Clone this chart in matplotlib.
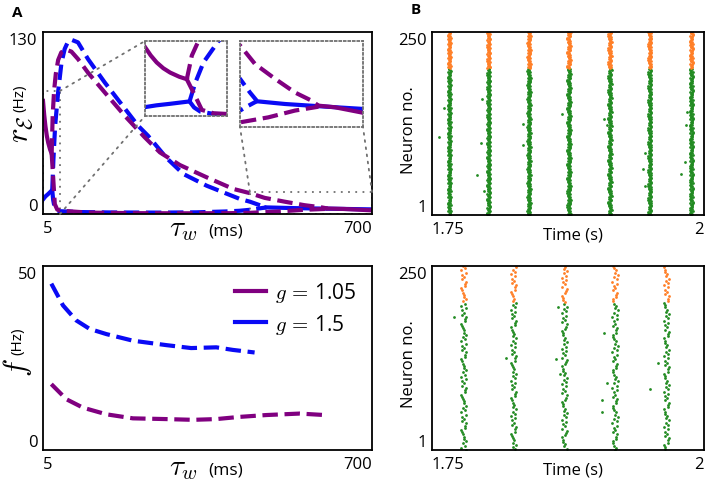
import matplotlib
matplotlib.use("Agg")
import matplotlib.pyplot as plt
from matplotlib.patches import Rectangle, ConnectionPatch

plt.rcParams['font.family'] = ['Open Sans', 'DejaVu Sans']
plt.rcParams['mathtext.fontset'] = 'cm'

PURPLE = '#800080'
BLUE = '#0a0af5'
GREEN = '#228b22'
ORANGE = '#ff7f27'
GREY = '#707070'

# ---- panel A top: firing rate branches vs tau_w (ms)
blue_solid_lo_x = [5, 10, 16, 24.5]
blue_solid_lo_y = [10.4, 12.5, 14.3, 17.1]
blue_up_x = [24.5, 27, 30.6, 37.2, 44, 50.8, 57, 64.8, 78.9, 100, 135.3, 170.4, 205.7,
             226.8, 266, 301.4, 350.8, 421.2, 442, 462.9, 477.1]
blue_up_y = [17.1, 38.9, 62.8, 87.9, 108, 117.9, 122.5, 124.5, 122.6, 110.7, 94, 78.6, 63.1,
             55.9, 40, 28.6, 20.2, 10.7, 8.8, 6.3, 4.8]
blue_lo_x = [24.5, 26.5, 29.2, 35, 40.9, 80, 150, 250, 330, 390, 420, 442, 460, 477.1]
blue_lo_y = [17.1, 10, 5.2, 2.4, 2.0, 1.4, 1.1, 1.0, 1.2, 1.8, 2.3, 3.0, 3.9, 4.7]
blue_solid_hi_x = [477.1, 536.4, 606.4, 700]
blue_solid_hi_y = [4.7, 4.2, 3.8, 3.3]

purple_solid_lo_x = [5, 7.5, 10.1, 13, 16, 20, 23.3]
purple_solid_lo_y = [80.8, 71, 62.8, 56, 50.9, 46, 43.1]
purple_up_x = [23.3, 25.5, 28.4, 32, 37, 43.7, 53.6, 65, 78.9, 100, 135.3, 177.6, 219.8,
               252, 294, 350.8, 407, 442, 473.5, 515.5, 557.3, 592.4, 606.4]
purple_up_y = [43.1, 70.8, 87.9, 100, 110, 115.5, 117.4, 116, 110.7, 101, 86.9, 70.2, 54.8,
               44, 35, 26.2, 17.9, 14.9, 11.5, 8.8, 6.3, 4.8, 3.9]
purple_lo_x = [23.3, 26.3, 29.9, 35, 40.9, 100, 200, 300, 400, 442, 501.3, 557.3, 606.4]
purple_lo_y = [43.1, 27.1, 7.1, 3.2, 2.4, 1.0, 0.6, 0.5, 0.6, 0.85, 1.76, 3.0, 3.7]
purple_solid_hi_x = [606.4, 641.2, 700]
purple_solid_hi_y = [3.9, 3.6, 2.6]

zoom1 = (5, 40.9, 0, 87.9)
zoom2 = (442, 700, 0, 15.7)

# ---- panel A bottom: oscillation frequency (Hz)
f_blue_x = [22.6, 47.2, 75.4, 103.6, 138.8, 195, 265.5, 317.9, 371, 406, 452]
f_blue_y = [45.2, 39.3, 35.2, 32.9, 31.5, 29.7, 28.5, 27.7, 27.9, 27.2, 26.5]
f_purple_x = [22.6, 54.3, 89.5, 138.8, 195, 265.5, 321.9, 371, 420.4, 476.8, 547.2, 600]
f_purple_y = [17.9, 13.8, 11.5, 9.7, 8.6, 8.4, 8.2, 8.4, 9.0, 9.5, 9.9, 9.5]

# ---- panel B: raster plots
n_exc = 200
n_tot = 250
top_bursts = [1.7659, 1.8020, 1.8392, 1.8759, 1.9135, 1.9502, 1.9884]
bot_bursts = [1.7790, 1.8249, 1.8716, 1.9181, 1.9655]
jitter_top_ms = [0.0, 0.8, -0.6, 1.3, -1.1, 0.3, -0.2, 0.9, -0.9, 0.5, -0.4, 1.5, -1.4,
                 0.1, 0.7, -0.7, 0.4, -1.6, 1.1]
jitter_bot_ms = [0.0, 1.5, -1.2, 2.2, -2.0, 0.6, -0.5, 1.8, -1.7, 1.0, -0.9, 2.6, -2.4,
                 0.3, 1.3, -1.4]
top_extra_t = [1.7561, 1.7613, 1.7913, 1.7950, 1.7958, 1.7974, 1.8334, 1.8340, 1.8692,
               1.9083, 1.9104, 1.9440, 1.9456, 1.9462, 1.9832, 1.9823, 1.9792, 1.9844]
top_extra_n = [107, 146, 55, 99, 159, 33, 96, 125, 139, 132, 123, 64, 86, 41, 123, 73, 57, 141]
bot_extra_t = [1.7699, 1.8182, 1.8640, 1.8677, 1.8661, 1.9080, 1.9105, 1.9059, 1.9059,
               1.9508, 1.9578]
bot_extra_n = [181, 126, 124, 104, 194, 160, 92, 68, 53, 83, 119]


def px_box(l, t, r, b):
    W, H = 708.0, 485.0
    return [l / W, 1 - b / H, (r - l) / W, (b - t) / H]


def style_axes(ax, xt, yt):
    ax.set_xticks(xt)
    ax.set_yticks(yt)
    ax.tick_params(length=0, labelsize=12, pad=4)
    for s in ax.spines.values():
        s.set_linewidth(1.3)
    xl = ax.get_xticklabels()
    xl[0].set_ha('left')
    xl[-1].set_ha('right')
    yl = ax.get_yticklabels()
    yl[0].set_va('bottom')
    yl[-1].set_va('top')


def draw_branches(ax, lw):
    dash = dict(ls='--', lw=lw)
    ax.plot(blue_solid_lo_x, blue_solid_lo_y, color=BLUE, lw=lw)
    ax.plot(blue_up_x, blue_up_y, color=BLUE, **dash)
    ax.plot(blue_lo_x, blue_lo_y, color=BLUE, **dash)
    ax.plot(blue_solid_hi_x, blue_solid_hi_y, color=BLUE, lw=lw)
    ax.plot(purple_solid_lo_x, purple_solid_lo_y, color=PURPLE, lw=lw)
    ax.plot(purple_up_x, purple_up_y, color=PURPLE, **dash)
    ax.plot(purple_lo_x, purple_lo_y, color=PURPLE, **dash)
    ax.plot(purple_solid_hi_x, purple_solid_hi_y, color=PURPLE, lw=lw)


fig = plt.figure(figsize=(7.08, 4.85), dpi=100)

# top-left
ax1 = fig.add_axes(px_box(43, 33, 372, 215))
draw_branches(ax1, 3)
ax1.set_xlim(5, 700)
ax1.set_ylim(0, 130)
style_axes(ax1, [5, 700], [0, 130])
dot = dict(ls=(0, (1, 3)), lw=1.3, color=GREY)
for (x0, x1, y0, y1) in (zoom1, zoom2):
    ax1.add_patch(Rectangle((x0, y0), x1 - x0, y1 - y0, fill=False, **dot))

ins1 = fig.add_axes(px_box(145, 42, 227, 117))
ins2 = fig.add_axes(px_box(240, 42, 363, 128))
for ins, z in ((ins1, zoom1), (ins2, zoom2)):
    draw_branches(ins, 3)
    ins.set_xlim(z[0], z[1])
    ins.set_ylim(z[2], z[3])
    ins.set_xticks([])
    ins.set_yticks([])
    for s in ins.spines.values():
        s.set_linestyle((0, (1, 1.5)))
        s.set_color(GREY)
        s.set_linewidth(1.3)

links = [((zoom1[1], zoom1[3]), ins1, (0, 1)), ((zoom1[1], zoom1[2]), ins1, (0, 0)),
         ((zoom2[0], zoom2[3]), ins2, (0, 0)), ((zoom2[1], zoom2[3]), ins2, (1, 0))]
for xyA, ins, xyB in links:
    fig.add_artist(ConnectionPatch(xyA=xyA, coordsA=ax1.transData, xyB=xyB,
                                   coordsB=ins.transAxes, **dot))

# bottom-left
ax2 = fig.add_axes(px_box(43, 267, 372, 451))
ax2.plot(f_purple_x, f_purple_y, color=PURPLE, ls='--', lw=3)
ax2.plot(f_blue_x, f_blue_y, color=BLUE, ls='--', lw=3)
ax2.plot([], [], color=PURPLE, lw=3, label=r'$g\,=\,$1.05')
ax2.plot([], [], color=BLUE, lw=3, label=r'$g\,=\,$1.5')
ax2.set_xlim(5, 700)
ax2.set_ylim(0, 50)
style_axes(ax2, [5, 700], [0, 50])
ax2.legend(loc='upper right', frameon=False, fontsize=15, handlelength=1.5,
           handletextpad=0.4, labelspacing=0.35, borderaxespad=0.2,
           bbox_to_anchor=(0.99, 0.99))

# axis labels for panel A
for yb in (236, 475):
    fig.text(198 / 708, 1 - yb / 485, r'$\tau_w$', fontsize=21, ha='right', va='baseline')
    fig.text(208 / 708, 1 - yb / 485, '(ms)', fontsize=12.5, ha='left', va='baseline')
fig.text(20 / 708, 1 - 112 / 485, '(Hz)', fontsize=11, rotation=90, ha='center', va='bottom')
fig.text(20 / 708, 1 - 115 / 485, r'$r_\mathcal{E}$', fontsize=22, rotation=90,
         ha='center', va='top')
fig.text(18 / 708, 1 - 355 / 485, '(Hz)', fontsize=11, rotation=90, ha='center', va='bottom')
fig.text(18 / 708, 1 - 358 / 485, r'$f$', fontsize=22, rotation=90, ha='center', va='top')


def raster(ax, bursts, jitter, stride, extra_t, extra_n, xlab_y):
    ex_t, ex_n, in_t, in_n = [], [], [], []
    for k, b in enumerate(bursts):
        for i in range(1 + k % stride, n_tot + 1, stride):
            t = b + jitter[(i * 7 + k * 3) % len(jitter)] * 1e-3
            if i <= n_exc:
                ex_t.append(t)
                ex_n.append(i)
            else:
                in_t.append(t)
                in_n.append(i)
    ax.scatter(ex_t + extra_t, ex_n + extra_n, s=4, color=GREEN, lw=0)
    ax.scatter(in_t, in_n, s=4, color=ORANGE, lw=0)
    ax.set_xlim(1.75, 2.0)
    ax.set_ylim(1, 250)
    style_axes(ax, [1.75, 2.0], [1, 250])
    ax.set_xticklabels(['1.75', '2'])
    xl = ax.get_xticklabels()
    xl[0].set_ha('left')
    xl[-1].set_ha('right')
    ax.set_xlabel('Time (s)', fontsize=12)
    ax.xaxis.set_label_coords(0.518, xlab_y)
    ax.set_ylabel('Neuron no.', fontsize=12)
    ax.yaxis.set_label_coords(-0.055, 0.47)


ax3 = fig.add_axes(px_box(432, 33, 704, 216))
raster(ax3, top_bursts, jitter_top_ms, 1, top_extra_t, top_extra_n, -0.065)
ax4 = fig.add_axes(px_box(432, 267, 704, 451))
raster(ax4, bot_bursts, jitter_bot_ms, 3, bot_extra_t, bot_extra_n, -0.06)

fig.text(12 / 708, 1 - 13 / 485, 'A', fontsize=11, fontweight='bold', ha='left', va='center')
fig.text(411 / 708, 1 - 10 / 485, 'B', fontsize=11, fontweight='bold', ha='left', va='center')

fig.savefig('out.png', dpi=100)
